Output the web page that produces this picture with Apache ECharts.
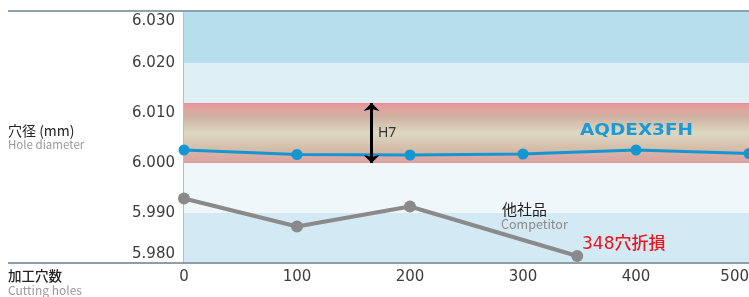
<!DOCTYPE html>
<html>
<head>
<meta charset="utf-8">
<script src="https://cdn.jsdelivr.net/npm/echarts@6/dist/echarts.min.js"></script>
<style>
  html, body { margin: 0; padding: 0; background: #fff; }
  #chart { width: 749px; height: 297px; }
</style>
</head>
<body>
<div id="chart"></div>
<script>
// 加工穴数 (x)
var holes = [0, 100, 200, 300, 400, 500];
// AQDEX3FH 穴径
var aqdexValues = [6.0026, 6.0017, 6.0016, 6.0018, 6.0026, 6.0019];
// 他社品 (348穴で折損)
var competitorHoles = [0, 100, 200, 348];
var competitorValues = [5.9929, 5.9873, 5.9913, 5.9814];
// 公差帯 H7 と背景の帯
var h7Band = [6.000, 6.012];
var bandEdges = [5.980, 5.990, 6.000, 6.012, 6.020, 6.0302];

var fontNum = '"DejaVu Sans", "Noto Sans CJK JP", sans-serif';
var fontJp = '"Noto Sans CJK JP", "Noto Sans", sans-serif';

function pairs(xs, ys) {
  return xs.map(function (x, i) { return [x, ys[i]]; });
}

var option = {
  animation: false,
  grid: { left: 184, right: 0, top: 12, bottom: 34, outerBoundsMode: 'none' },
  xAxis: {
    type: 'value',
    min: 0, max: 500, interval: 100,
    axisLine: { show: false },
    axisTick: { show: false },
    splitLine: { show: false },
    axisLabel: {
      fontSize: 15, color: '#3c3c3c', fontFamily: fontNum, margin: 7,
      alignMaxLabel: 'right'
    }
  },
  yAxis: {
    type: 'value',
    min: bandEdges[0], max: bandEdges[bandEdges.length - 1], interval: 0.01,
    axisLine: { show: true, lineStyle: { color: '#a9c1ca', width: 2 } },
    axisTick: { show: false },
    splitLine: { show: false },
    axisLabel: {
      margin: 9,
      formatter: function (v) {
        var k = Math.round(v * 100);
        if (Math.abs(v * 100 - k) > 1e-6) return '';
        var s = (k / 100).toFixed(3);
        if (k === 603) return '{t|' + s + '}';
        if (k === 598) return '{b|' + s + '}';
        return '{n|' + s + '}';
      },
      rich: {
        n: { fontSize: 15, color: '#3c3c3c', fontFamily: fontNum },
        t: { fontSize: 15, color: '#3c3c3c', fontFamily: fontNum, padding: [16, 0, 0, 0] },
        b: { fontSize: 15, color: '#3c3c3c', fontFamily: fontNum, padding: [0, 0, 18, 0] }
      }
    }
  },
  series: [
    {
      name: 'AQDEX3FH',
      type: 'line',
      data: pairs(holes, aqdexValues),
      symbol: 'circle',
      symbolSize: 11,
      lineStyle: { color: '#1496d3', width: 3 },
      itemStyle: { color: '#1496d3' },
      z: 4,
      markArea: {
        silent: true,
        data: [
          [{ yAxis: bandEdges[4], itemStyle: { color: '#b6deec' } }, { yAxis: bandEdges[5] }],
          [{ yAxis: h7Band[1], itemStyle: { color: '#deeff6' } }, { yAxis: bandEdges[4] }],
          [{
            yAxis: h7Band[0],
            itemStyle: {
              color: {
                type: 'linear', x: 0, y: 0, x2: 0, y2: 1,
                colorStops: [
                  { offset: 0, color: '#e98f99' },
                  { offset: 0.07, color: '#e2a09e' },
                  { offset: 0.22, color: '#cfb1a0' },
                  { offset: 0.5, color: '#ddd8c1' },
                  { offset: 0.78, color: '#d4bba7' },
                  { offset: 1, color: '#df9ea1' }
                ]
              }
            }
          }, { yAxis: h7Band[1] }],
          [{ yAxis: bandEdges[1], itemStyle: { color: '#eff7fb' } }, { yAxis: h7Band[0] }],
          [{ yAxis: bandEdges[0], itemStyle: { color: '#d3eaf4' } }, { yAxis: bandEdges[1] }]
        ]
      },
      markLine: {
        silent: true,
        symbol: ['arrow', 'arrow'],
        symbolSize: [12, 8],
        label: { show: false },
        lineStyle: { color: '#000', width: 3, type: 'solid' },
        data: [[{ coord: [166, h7Band[1]] }, { coord: [166, h7Band[0]] }]]
      }
    },
    {
      name: '他社品',
      type: 'line',
      data: pairs(competitorHoles, competitorValues),
      symbol: 'circle',
      symbolSize: 12,
      lineStyle: { color: '#8a8a8a', width: 4 },
      itemStyle: { color: '#8a8a8a' },
      z: 3
    }
  ],
  graphic: [
    { type: 'line', shape: { x1: 8, y1: 11, x2: 749, y2: 11 }, style: { stroke: '#8fa2aa', lineWidth: 2 }, z: 10 },
    { type: 'line', shape: { x1: 8, y1: 263, x2: 749, y2: 263 }, style: { stroke: '#8c9ea6', lineWidth: 2 }, z: 10 },
    { type: 'text', x: 8, y: 131, style: { text: '穴径 (mm)', fill: '#222', font: '14px ' + fontJp, verticalAlign: 'middle' } },
    { type: 'text', x: 8, y: 145, style: { text: 'Hole diameter', fill: '#9a9a9a', font: '11.5px ' + fontJp, verticalAlign: 'middle' } },
    { type: 'text', x: 8, y: 276, style: { text: '加工穴数', fill: '#222', font: '500 13.5px ' + fontJp, verticalAlign: 'middle' } },
    { type: 'text', x: 8, y: 290, style: { text: 'Cutting holes', fill: '#9a9a9a', font: '12px ' + fontJp, verticalAlign: 'middle' } },
    { type: 'text', x: 378, y: 133, style: { text: 'H7', fill: '#333', font: '14px "Noto Sans", sans-serif', verticalAlign: 'middle' }, z: 10 },
    { type: 'text', x: 580, y: 131.5, scaleX: 1.23, style: { text: 'AQDEX3FH', fill: '#1a9ad6', font: 'bold 15px "DejaVu Sans", sans-serif', verticalAlign: 'middle' }, z: 10 },
    { type: 'text', x: 502, y: 209, style: { text: '他社品', fill: '#222', font: '15px ' + fontJp, verticalAlign: 'middle' }, z: 10 },
    { type: 'text', x: 501, y: 224, style: { text: 'Competitor', fill: '#8a8a8a', font: '12.5px ' + fontJp, verticalAlign: 'middle' }, z: 10 },
    { type: 'text', x: 582, y: 245, style: { text: '348穴折損', fill: '#e8141e', font: '500 17px ' + fontNum, verticalAlign: 'middle' }, z: 10 }
  ]
};

var myChart = echarts.init(document.getElementById('chart'));
myChart.setOption(option);
</script>
</body>
</html>
